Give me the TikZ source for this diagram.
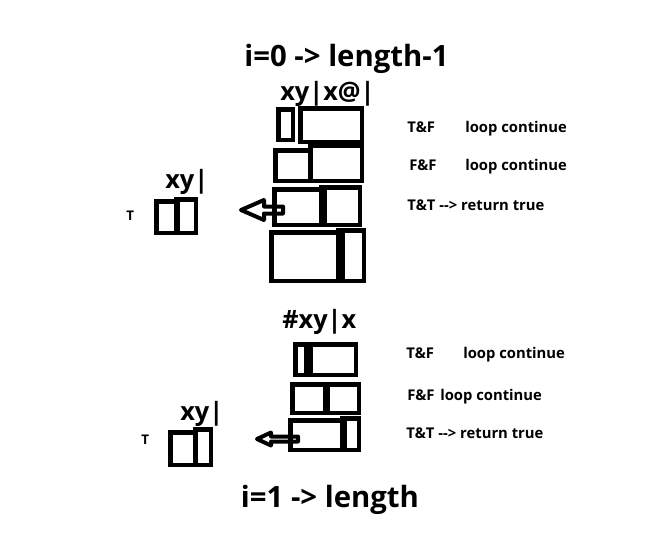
\documentclass[tikz,border=0pt]{standalone}
\usepackage{fontspec}
\setmainfont{Open Sans}
\begin{document}
\begin{tikzpicture}[x=0.75pt,y=-0.75pt,
  bx/.style={draw=black, line width=3.375pt, rectangle, inner sep=0pt, fill=none},
  hollow/.style={draw=black, line width=3pt, line join=round},
  big/.style={font=\fontsize{22pt}{26pt}\selectfont\bfseries, inner sep=0pt, anchor=base},
  mid/.style={font=\fontsize{19pt}{22pt}\selectfont\bfseries, inner sep=0pt, anchor=base west},
  lab/.style={font=\fontsize{11.1pt}{13pt}\selectfont\bfseries, inner sep=0pt, anchor=base west},
  tiny/.style={font=\fontsize{10pt}{12pt}\selectfont\bfseries, inner sep=0pt, anchor=base west}]
\useasboundingbox (0,0) rectangle (672,537);
\newcommand\mybox[5]{%
  \pgfmathsetmacro\bw{(#4-#2-4.5)*0.75}%
  \pgfmathsetmacro\bh{(#5-#3-4.5)*0.75}%
  \node[bx, minimum width=\bw pt, minimum height=\bh pt] (#1) at ({(#2+#4)/2},{(#3+#5)/2}) {};}

% titles
\node[big] (t0) at (346.5,66) {i=0 -> length-1};
\node[mid] (s0) at (280,100) {xy|x@|};
\node[mid] (s1) at (282,328) {\#xy|x};
\node[big] (t1) at (330,507) {i=1 -> length};
\node[mid] (l0) at (165,188) {xy|};
\node[mid] (l1) at (180,420) {xy|};
\node[tiny] (T0) at (126,220) {T};
\node[tiny] (T1) at (141,444) {T};

% top column
\mybox{a1}{276}{107}{295}{142}
\mybox{a2}{298}{106}{364}{144}
\mybox{b1}{273}{148}{313}{183}
\mybox{b2}{308}{143}{364}{183}
\mybox{c1}{272}{187}{327}{227}
\mybox{c2}{319}{185}{362}{227}
\mybox{d1}{269}{230}{345}{283}
\mybox{d2}{336}{228}{366}{283}
% top left result
\mybox{e1}{154}{199}{180}{235}
\mybox{e2}{174}{197}{198}{235}

% bottom column
\mybox{f1}{293}{342}{313}{377}
\mybox{f2}{304}{342}{358}{377}
\mybox{g1}{290}{382}{330}{415}
\mybox{g2}{323}{382}{361}{415}
\mybox{h1}{288}{418}{347}{452}
\mybox{h2}{340}{416}{361}{452}
% bottom left result
\mybox{k1}{168}{430}{198}{467}
\mybox{k2}{193}{427}{213}{467}

% hollow arrows
\draw[hollow] (241,210) -- (264,200) -- (264,206.5) -- (283,206.5) -- (283,213.5) -- (264,213.5) -- (264,220) -- cycle;
\draw[hollow] (257,439) -- (271,432.5) -- (271,436.5) -- (298,436.5) -- (298,441.5) -- (271,441.5) -- (271,445.5) -- cycle;

% right labels top
\node[lab] (r1a) at (407,132) {T\&F};
\node[lab] (r1b) at (465,132) {loop continue};
\node[lab] (r2a) at (409,170) {F\&F};
\node[lab] (r2b) at (465,170) {loop continue};
\node[lab] (r3a) at (407,210) {T\&T -{}-> return true};
% right labels bottom
\node[lab] (q1a) at (406,358) {T\&F};
\node[lab] (q1b) at (463,358) {loop continue};
\node[lab] (q2a) at (407,400) {F\&F};
\node[lab] (q2b) at (440,400) {loop continue};
\node[lab] (q3a) at (406,438) {T\&T -{}-> return true};
\end{tikzpicture}
\end{document}
